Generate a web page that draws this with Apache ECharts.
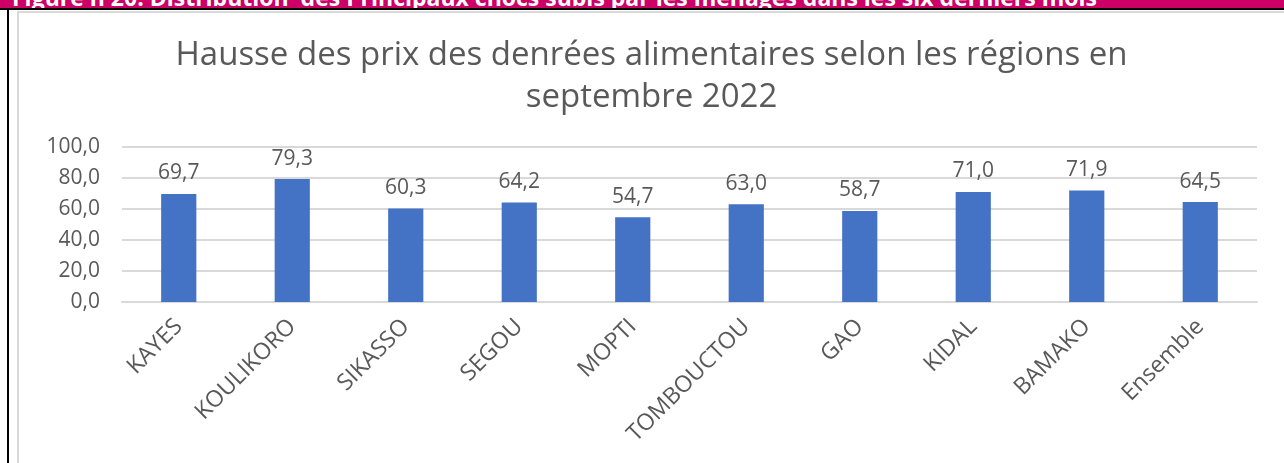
<!DOCTYPE html>
<html>
<head>
<meta charset="utf-8">
<script src="https://cdn.jsdelivr.net/npm/echarts@6/dist/echarts.min.js"></script>
<style>
    html, body { margin: 0; padding: 0; background: #fff; }
    .page { position: relative; width: 1284px; height: 463px; overflow: hidden; }
    .band { position: absolute; left: 0; top: 0; width: 1284px; height: 8px; background: #cc0066; overflow: hidden; }
    .band span {
        position: absolute; left: 12px; top: -19px; white-space: nowrap;
        font-family: "Open Sans", sans-serif; font-weight: bold; font-size: 23px; color: #fff;
    }
    .rule { position: absolute; left: 0; top: 8px; width: 1284px; height: 2px; background: #000; }
    .vrule { position: absolute; left: 7px; top: 8px; width: 2px; height: 455px; background: #000; }
    .frame { position: absolute; left: 17px; top: 11px; width: 1270px; height: 460px; border: 2px solid #d9d9d9; box-sizing: border-box; }
    #chart { position: absolute; left: 19px; top: 13px; width: 1265px; height: 450px; }
</style>
</head>
<body>
<div class="page">
    <div class="band"><span>Figure n 20: Distribution&nbsp; des Principaux chocs subis par les ménages dans les six derniers mois</span></div>
    <div class="rule"></div>
    <div class="vrule"></div>
    <div class="frame"></div>
    <div id="chart"></div>
</div>
<script>
// Regions and share of households reporting a rise in food prices (%)
const regions = ['KAYES', 'KOULIKORO', 'SIKASSO', 'SEGOU', 'MOPTI', 'TOMBOUCTOU', 'GAO', 'KIDAL', 'BAMAKO', 'Ensemble']
const hausse = [69.7, 79.3, 60.3, 64.2, 54.7, 63.0, 58.7, 71.0, 71.9, 64.5]

const fmt = v => Number(v).toFixed(1).replace('.', ',')

const chart = echarts.init(document.getElementById('chart'))
chart.setOption({
    animation: false,
    title: {
        text: 'Hausse des prix des denrées alimentaires selon les régions en\nseptembre 2022',
        left: 'center',
        top: 17,
        textStyle: {
            fontFamily: 'Open Sans',
            fontSize: 33,
            fontWeight: 'normal',
            lineHeight: 42,
            color: '#595959'
        }
    },
    grid: { left: 103, right: 27, top: 134, bottom: 161 },
    xAxis: {
        type: 'category',
        data: regions,
        axisLine: { lineStyle: { color: '#d9d9d9', width: 2 } },
        axisTick: { show: false },
        axisLabel: {
            rotate: 45,
            margin: 21,
            interval: 0,
            fontFamily: 'Open Sans',
            fontSize: 23,
            color: '#595959'
        }
    },
    yAxis: {
        type: 'value',
        min: 0,
        max: 100,
        interval: 20,
        axisLine: { show: false },
        axisTick: { show: false },
        splitLine: { lineStyle: { color: '#d9d9d9', width: 2 } },
        axisLabel: {
            margin: 22,
            fontFamily: 'Open Sans',
            fontSize: 21,
            color: '#595959',
            formatter: fmt
        }
    },
    series: [{
        type: 'bar',
        data: hausse,
        barWidth: '31%',
        itemStyle: { color: '#4472c4' },
        label: {
            show: true,
            position: 'top',
            distance: 10,
            fontFamily: 'Open Sans',
            fontSize: 21,
            color: '#595959',
            formatter: p => fmt(p.value)
        }
    }]
})
</script>
</body>
</html>
